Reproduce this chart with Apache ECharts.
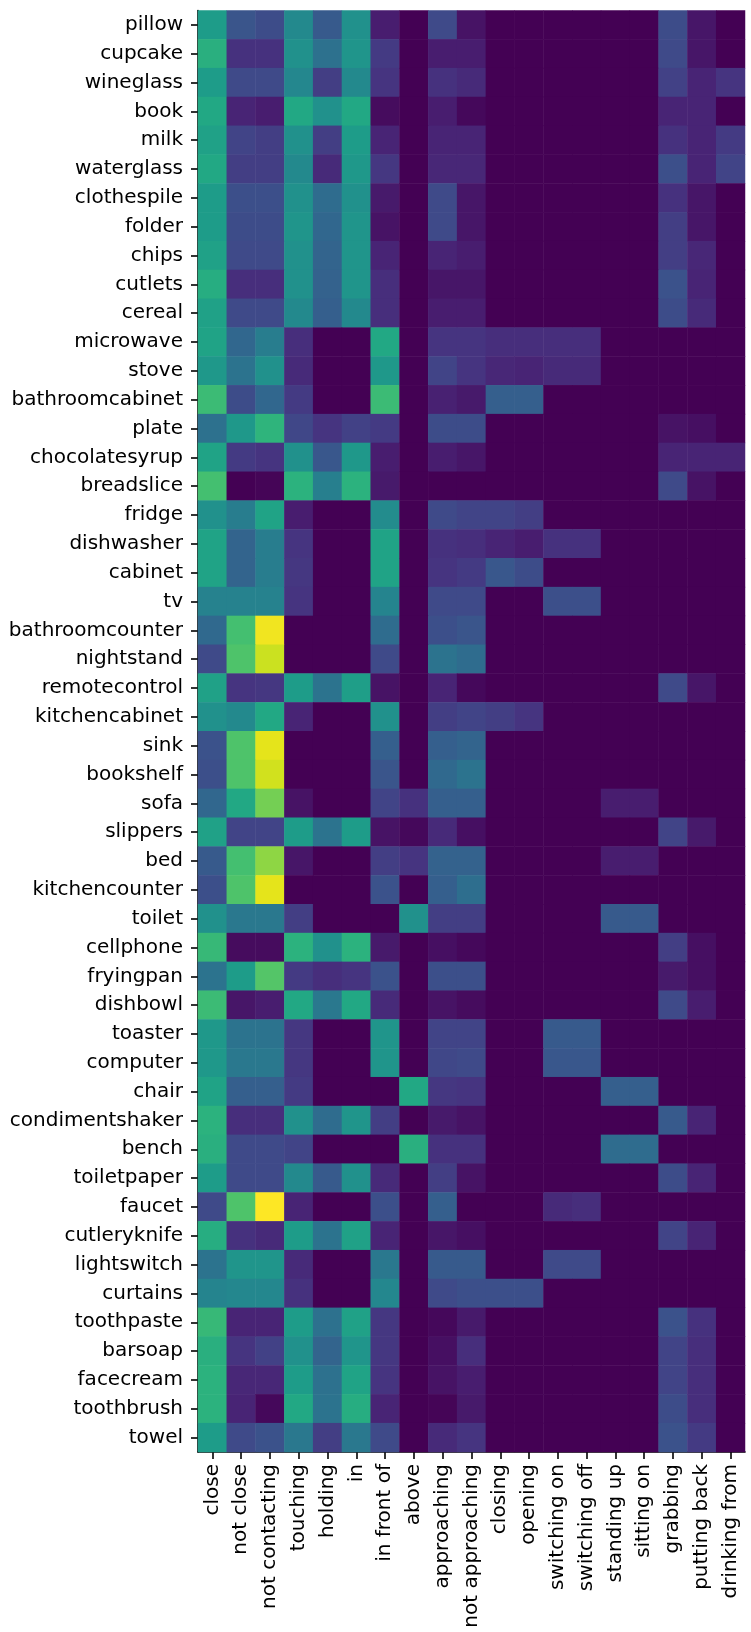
<!DOCTYPE html>
<html>
<head>
<meta charset="utf-8">
<script src="https://cdn.jsdelivr.net/npm/echarts@6/dist/echarts.min.js"></script>
<style>
  html, body { margin: 0; padding: 0; background: #fff; }
  #chart { width: 751px; height: 1632px; }
</style>
</head>
<body>
<div id="chart"></div>
<script>
// Row categories (objects), top to bottom
const objects = [
  'pillow', 'cupcake', 'wineglass', 'book', 'milk', 'waterglass', 'clothespile',
  'folder', 'chips', 'cutlets', 'cereal', 'microwave', 'stove', 'bathroomcabinet',
  'plate', 'chocolatesyrup', 'breadslice', 'fridge', 'dishwasher', 'cabinet', 'tv',
  'bathroomcounter', 'nightstand', 'remotecontrol', 'kitchencabinet', 'sink',
  'bookshelf', 'sofa', 'slippers', 'bed', 'kitchencounter', 'toilet', 'cellphone',
  'fryingpan', 'dishbowl', 'toaster', 'computer', 'chair', 'condimentshaker', 'bench',
  'toiletpaper', 'faucet', 'cutleryknife', 'lightswitch', 'curtains', 'toothpaste',
  'barsoap', 'facecream', 'toothbrush', 'towel'
];

// Column categories (relations), left to right
const relations = [
  'close', 'not close', 'not contacting', 'touching', 'holding', 'in', 'in front of',
  'above', 'approaching', 'not approaching', 'closing', 'opening', 'switching on',
  'switching off', 'standing up', 'sitting on', 'grabbing', 'putting back', 'drinking from'
];

// One row of relation frequencies per object, in the column order above
const values = [
  /* pillow */          [0.55, 0.26, 0.23, 0.47, 0.28, 0.50, 0.08, 0, 0.22, 0.05, 0, 0, 0, 0, 0, 0, 0.23, 0.06, 0],
  /* cupcake */         [0.63, 0.14, 0.14, 0.50, 0.37, 0.52, 0.17, 0, 0.08, 0.08, 0, 0, 0, 0, 0, 0, 0.22, 0.06, 0],
  /* wineglass */       [0.55, 0.22, 0.22, 0.46, 0.18, 0.47, 0.15, 0, 0.14, 0.12, 0, 0, 0, 0, 0, 0, 0.19, 0.10, 0.15],
  /* book */            [0.60, 0.10, 0.08, 0.60, 0.50, 0.60, 0.03, 0, 0.08, 0.02, 0, 0, 0, 0, 0, 0, 0.10, 0.10, 0],
  /* milk */            [0.57, 0.20, 0.18, 0.50, 0.18, 0.55, 0.10, 0, 0.10, 0.10, 0, 0, 0, 0, 0, 0, 0.14, 0.10, 0.17],
  /* waterglass */      [0.60, 0.18, 0.18, 0.47, 0.12, 0.53, 0.16, 0, 0.11, 0.11, 0, 0, 0, 0, 0, 0, 0.24, 0.10, 0.20],
  /* clothespile */     [0.55, 0.24, 0.24, 0.50, 0.35, 0.50, 0.07, 0, 0.22, 0.06, 0, 0, 0, 0, 0, 0, 0.14, 0.06, 0],
  /* folder */          [0.55, 0.23, 0.23, 0.52, 0.33, 0.52, 0.05, 0, 0.22, 0.06, 0, 0, 0, 0, 0, 0, 0.18, 0.06, 0],
  /* chips */           [0.57, 0.22, 0.22, 0.50, 0.32, 0.52, 0.10, 0, 0.10, 0.08, 0, 0, 0, 0, 0, 0, 0.18, 0.11, 0],
  /* cutlets */         [0.62, 0.13, 0.13, 0.50, 0.31, 0.52, 0.13, 0, 0.06, 0.06, 0, 0, 0, 0, 0, 0, 0.25, 0.10, 0],
  /* cereal */          [0.57, 0.22, 0.22, 0.47, 0.30, 0.47, 0.13, 0, 0.08, 0.08, 0, 0, 0, 0, 0, 0, 0.23, 0.12, 0],
  /* microwave */       [0.58, 0.33, 0.42, 0.13, 0, 0, 0.60, 0, 0.15, 0.15, 0.13, 0.13, 0.13, 0.13, 0, 0, 0, 0, 0],
  /* stove */           [0.53, 0.38, 0.50, 0.12, 0, 0, 0.53, 0, 0.20, 0.15, 0.11, 0.10, 0.12, 0.12, 0, 0, 0, 0, 0],
  /* bathroomcabinet */ [0.68, 0.23, 0.33, 0.17, 0, 0, 0.68, 0, 0.09, 0.07, 0.30, 0.30, 0, 0, 0, 0, 0, 0, 0],
  /* plate */           [0.37, 0.53, 0.65, 0.21, 0.15, 0.19, 0.17, 0, 0.23, 0.23, 0, 0, 0, 0, 0, 0, 0.05, 0.04, 0],
  /* chocolatesyrup */  [0.58, 0.17, 0.15, 0.50, 0.27, 0.53, 0.08, 0, 0.08, 0.06, 0, 0, 0, 0, 0, 0, 0.10, 0.10, 0.10],
  /* breadslice */      [0.70, 0, 0.01, 0.64, 0.43, 0.64, 0.07, 0, 0, 0, 0, 0, 0, 0, 0, 0, 0.22, 0.05, 0],
  /* fridge */          [0.50, 0.42, 0.58, 0.08, 0, 0, 0.48, 0, 0.22, 0.20, 0.20, 0.18, 0, 0, 0, 0, 0, 0, 0],
  /* dishwasher */      [0.58, 0.32, 0.42, 0.15, 0, 0, 0.58, 0, 0.14, 0.13, 0.10, 0.08, 0.14, 0.14, 0, 0, 0, 0, 0],
  /* cabinet */         [0.58, 0.32, 0.42, 0.16, 0, 0, 0.58, 0, 0.15, 0.17, 0.27, 0.23, 0, 0, 0, 0, 0, 0, 0],
  /* tv */              [0.44, 0.44, 0.44, 0.15, 0, 0, 0.45, 0, 0.22, 0.22, 0, 0, 0.24, 0.24, 0, 0, 0, 0, 0],
  /* bathroomcounter */ [0.34, 0.70, 0.98, 0, 0, 0, 0.35, 0, 0.24, 0.26, 0, 0, 0, 0, 0, 0, 0, 0, 0],
  /* nightstand */      [0.22, 0.72, 0.92, 0, 0, 0, 0.22, 0, 0.38, 0.35, 0, 0, 0, 0, 0, 0, 0, 0, 0],
  /* remotecontrol */   [0.57, 0.15, 0.16, 0.55, 0.38, 0.56, 0.05, 0, 0.10, 0.02, 0, 0, 0, 0, 0, 0, 0.22, 0.06, 0],
  /* kitchencabinet */  [0.50, 0.47, 0.60, 0.10, 0, 0, 0.50, 0, 0.18, 0.20, 0.18, 0.15, 0, 0, 0, 0, 0, 0, 0],
  /* sink */            [0.25, 0.72, 0.96, 0, 0, 0, 0.30, 0, 0.30, 0.32, 0, 0, 0, 0, 0, 0, 0, 0, 0],
  /* bookshelf */       [0.24, 0.72, 0.93, 0, 0, 0, 0.26, 0, 0.34, 0.38, 0, 0, 0, 0, 0, 0, 0, 0, 0],
  /* sofa */            [0.33, 0.60, 0.79, 0.05, 0, 0, 0.20, 0.14, 0.30, 0.30, 0, 0, 0, 0, 0.08, 0.08, 0, 0, 0],
  /* slippers */        [0.57, 0.20, 0.20, 0.55, 0.38, 0.55, 0.05, 0.02, 0.12, 0.04, 0, 0, 0, 0, 0, 0, 0.20, 0.07, 0],
  /* bed */             [0.28, 0.70, 0.83, 0.06, 0, 0, 0.18, 0.15, 0.31, 0.31, 0, 0, 0, 0, 0.08, 0.08, 0, 0, 0],
  /* kitchencounter */  [0.24, 0.72, 0.96, 0, 0, 0, 0.25, 0, 0.30, 0.36, 0, 0, 0, 0, 0, 0, 0, 0, 0],
  /* toilet */          [0.50, 0.40, 0.40, 0.18, 0, 0, 0, 0.50, 0.18, 0.18, 0, 0, 0, 0, 0.28, 0.28, 0, 0, 0],
  /* cellphone */       [0.67, 0.03, 0.03, 0.64, 0.50, 0.64, 0.07, 0, 0.04, 0.02, 0, 0, 0, 0, 0, 0, 0.18, 0.04, 0],
  /* fryingpan */       [0.38, 0.55, 0.73, 0.17, 0.13, 0.15, 0.25, 0, 0.24, 0.24, 0, 0, 0, 0, 0, 0, 0.07, 0.04, 0],
  /* dishbowl */        [0.68, 0.06, 0.08, 0.60, 0.40, 0.60, 0.12, 0, 0.05, 0.03, 0, 0, 0, 0, 0, 0, 0.22, 0.08, 0],
  /* toaster */         [0.53, 0.38, 0.38, 0.16, 0, 0, 0.52, 0, 0.20, 0.20, 0, 0, 0.28, 0.28, 0, 0, 0, 0, 0],
  /* computer */        [0.53, 0.40, 0.40, 0.16, 0, 0, 0.52, 0, 0.21, 0.22, 0, 0, 0.27, 0.27, 0, 0, 0, 0, 0],
  /* chair */           [0.58, 0.30, 0.30, 0.17, 0, 0, 0, 0.60, 0.16, 0.15, 0, 0, 0, 0, 0.30, 0.30, 0, 0, 0],
  /* condimentshaker */ [0.64, 0.13, 0.13, 0.50, 0.35, 0.52, 0.18, 0, 0.07, 0.05, 0, 0, 0, 0, 0, 0, 0.28, 0.10, 0],
  /* bench */           [0.63, 0.22, 0.22, 0.20, 0, 0, 0, 0.63, 0.14, 0.14, 0, 0, 0, 0, 0.35, 0.35, 0, 0, 0],
  /* toiletpaper */     [0.55, 0.22, 0.22, 0.47, 0.28, 0.50, 0.12, 0, 0.18, 0.05, 0, 0, 0, 0, 0, 0, 0.23, 0.10, 0],
  /* faucet */          [0.22, 0.72, 1.00, 0.10, 0, 0, 0.24, 0, 0.30, 0, 0, 0, 0.12, 0.13, 0, 0, 0, 0, 0],
  /* cutleryknife */    [0.62, 0.14, 0.12, 0.55, 0.38, 0.57, 0.10, 0, 0.06, 0.04, 0, 0, 0, 0, 0, 0, 0.20, 0.10, 0],
  /* lightswitch */     [0.38, 0.52, 0.52, 0.12, 0, 0, 0.40, 0, 0.28, 0.28, 0, 0, 0.22, 0.22, 0, 0, 0, 0, 0],
  /* curtains */        [0.45, 0.46, 0.46, 0.14, 0, 0, 0.46, 0, 0.22, 0.24, 0.24, 0.24, 0, 0, 0, 0, 0, 0, 0],
  /* toothpaste */      [0.67, 0.10, 0.10, 0.55, 0.37, 0.57, 0.16, 0, 0.02, 0.07, 0, 0, 0, 0, 0, 0, 0.25, 0.14, 0],
  /* barsoap */         [0.63, 0.15, 0.19, 0.50, 0.32, 0.52, 0.16, 0, 0.04, 0.13, 0, 0, 0, 0, 0, 0, 0.20, 0.13, 0],
  /* facecream */       [0.64, 0.11, 0.11, 0.55, 0.37, 0.58, 0.15, 0, 0.05, 0.08, 0, 0, 0, 0, 0, 0, 0.20, 0.13, 0],
  /* toothbrush */      [0.64, 0.10, 0.02, 0.60, 0.38, 0.62, 0.10, 0, 0.01, 0.07, 0, 0, 0, 0, 0, 0, 0.23, 0.13, 0],
  /* towel */           [0.55, 0.22, 0.25, 0.40, 0.18, 0.40, 0.22, 0, 0.12, 0.15, 0, 0, 0, 0, 0, 0, 0.25, 0.17, 0]
];

// Viridis colour ramp, 21 evenly spaced stops
const viridis = [
  '#440154', '#471365', '#482475', '#463480', '#414487', '#3b528b', '#355f8d',
  '#2f6c8e', '#2a788e', '#25848e', '#21918c', '#1e9c89', '#22a884', '#2fb47c',
  '#44bf70', '#5ec962', '#7ad151', '#9bd93c', '#bddf26', '#dfe318', '#fde725'
];

const cells = [];
values.forEach((row, yi) => {
  row.forEach((v, xi) => cells.push([xi, yi, v]));
});

const font = 'DejaVu Sans';
const chart = echarts.init(document.getElementById('chart'), null, { renderer: 'canvas' });

chart.setOption({
  animation: false,
  backgroundColor: '#ffffff',
  grid: { left: 198, top: 10.5, width: 547, height: 1441.5, containLabel: false },
  xAxis: {
    type: 'category',
    data: relations,
    position: 'bottom',
    axisLine: { show: true, lineStyle: { color: '#000', width: 1.6 } },
    axisTick: { show: true, alignWithLabel: true, length: 7, lineStyle: { color: '#000', width: 1.6 } },
    axisLabel: { rotate: 90, interval: 0, fontSize: 20, color: '#000', fontFamily: font, margin: 12 },
    splitLine: { show: false },
    splitArea: { show: false }
  },
  yAxis: {
    type: 'category',
    data: objects,
    inverse: true,
    axisLine: { show: true, lineStyle: { color: '#000', width: 1.6 } },
    axisTick: { show: true, alignWithLabel: true, length: 7, lineStyle: { color: '#000', width: 1.6 } },
    axisLabel: { interval: 0, fontSize: 20, color: '#000', fontFamily: font, margin: 15 },
    splitLine: { show: false },
    splitArea: { show: false }
  },
  visualMap: {
    show: false,
    min: 0,
    max: 1,
    dimension: 2,
    inRange: { color: viridis }
  },
  series: [{
    type: 'heatmap',
    data: cells,
    itemStyle: { borderWidth: 0 },
    emphasis: { disabled: true },
    z: 1
  }]
});
</script>
</body>
</html>
